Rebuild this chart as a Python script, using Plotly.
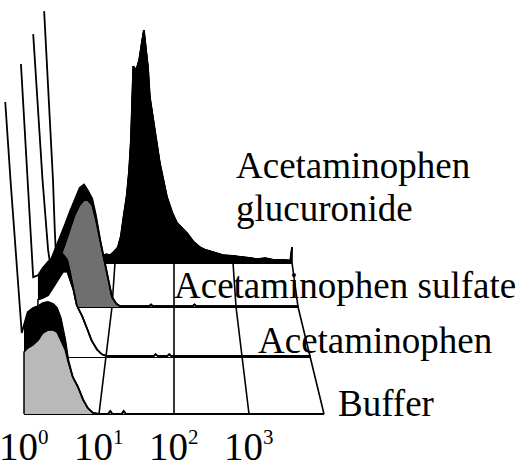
import plotly.graph_objects as go

# ---------------- data (log10 fluorescence, counts per channel) ----------------
layer_names = ["Buffer", "Acetaminophen", "Acetaminophen sulfate", "Acetaminophen glucuronide"]
decades = [0, 1, 2, 3, 4]
tick_exponents = [0, 1, 2, 3]
y_max_counts = 330

buffer_logf = [-0.25, -0.18, -0.03, 0.00, 0.05, 0.12, 0.19, 0.25, 0.32, 0.39, 0.44, 0.49, 0.55, 0.59,
               0.65, 0.72, 0.79, 0.85, 0.92, 1.00, 1.12, 1.15, 1.18, 1.30, 1.33, 1.36, 2.00, 4.00]
buffer_hi = [312, 234, 81, 89, 102, 106, 108, 111, 112, 110, 106, 96, 74, 54,
             37, 27, 14, 6, 1, 0, 0, 3, 0, 0, 3, 0, 0, 0]
buffer_lo = [312, 234, 81, 62, 66, 69, 74, 81, 84, 84, 82, 74, 64, 52,
             37, 27, 14, 6, 1, 0, 0, 3, 0, 0, 3, 0, 0, 0]

acet_logf = [-0.25, -0.15, -0.07, 0.00, 0.07, 0.15, 0.22, 0.29, 0.37, 0.43, 0.47, 0.52, 0.57, 0.65,
             0.72, 0.79, 0.87, 0.94, 1.01, 1.70, 1.73, 1.76, 1.90, 1.93, 1.96, 4.00]
acet_hi = [323, 195, 88, 90, 98, 105, 109, 113, 113, 107, 94, 74, 57, 45,
           32, 18, 8, 3, 1, 1, 3, 1, 1, 3, 1, 1]
acet_lo = [323, 195, 88, 63, 65, 68, 76, 85, 94, 94, 85, 74, 57, 45,
           32, 18, 8, 3, 1, 1, 3, 1, 1, 3, 1, 1]

sulf_logf = [-0.27, -0.12, -0.03, 0.00, 0.08, 0.16, 0.24, 0.32, 0.40, 0.48, 0.55, 0.61, 0.68, 0.74,
             0.81, 0.87, 0.94, 1.00, 1.07, 1.13, 1.60, 1.63, 1.66, 2.30, 2.33, 2.36, 4.00]
sulf_hi = [331, 154, 69, 54, 69, 83, 99, 115, 129, 144, 148, 141, 131, 111,
           81, 59, 33, 12, 4, 1, 1, 3, 1, 1, 3, 1, 1]
sulf_lo = [331, 154, 69, 39, 47, 59, 75, 93, 111, 123, 129, 129, 123, 105,
           81, 59, 33, 12, 4, 1, 1, 3, 1, 1, 3, 1, 1]

gluc_logf = [-0.20, -0.05, -0.02, 0.00, 0.24, 0.49, 0.78, 0.85, 0.92, 0.98, 1.05, 1.10, 1.15, 1.20,
             1.24, 1.27, 1.31, 1.36, 1.41, 1.46, 1.49, 1.53, 1.56, 1.59, 1.63, 1.68, 1.76, 1.88,
             1.97, 2.05, 2.14, 2.22, 2.33, 2.44, 2.52, 2.64, 2.75, 2.83, 3.00, 3.12, 3.27, 3.41,
             3.55, 3.68, 3.85, 3.97, 4.00]
gluc_hi = [320, 105, 42, 10, 9, 10, 9, 11, 10, 14, 20, 34, 61, 86,
           118, 156, 250, 245, 258, 285, 296, 268, 248, 211, 191, 169, 127, 84,
           64, 51, 44, 38, 27, 20, 17, 14, 12, 10, 9, 8, 7, 5,
           6, 4, 4, 3, 20]

# ---------------- drawing geometry (pixels) ----------------
W, H = 520, 462
BASE_Y = [414, 357, 307, 263]          # baseline of each staggered layer (front -> back)
SCALE = [1.0, 0.907, 0.827, 0.787]     # perspective scale of each layer
X_CENTER, D_CENTER, DECADE_PX = 174, 2.0, 75
PX_PER_COUNT = 1.0
FILLS = ["#b9b9b9", "#ffffff", "#6f6f6f", "#000000"]
SERIF = "Liberation Serif"


def to_screen(k, d, c):
    s = SCALE[k]
    return X_CENTER + (d - D_CENTER) * DECADE_PX * s, BASE_Y[k] - min(c, y_max_counts) * PX_PER_COUNT * s


fig = go.Figure()

# floor grid: baselines of the layers and slanted decade lines
for k in range(4):
    p0 = to_screen(k, decades[0], 0)
    p1 = to_screen(k, decades[-1], 0)
    fig.add_trace(go.Scatter(x=[p0[0], p1[0]], y=[p0[1], p1[1]], mode="lines",
                             line=dict(color="black", width=2), hoverinfo="skip"))
for d in decades[1:]:
    pts = [to_screen(k, d, 0) for k in range(4)]
    fig.add_trace(go.Scatter(x=[p[0] for p in pts], y=[p[1] for p in pts], mode="lines",
                             line=dict(color="black", width=1.6), hoverinfo="skip"))

layers = [
    (buffer_logf, buffer_hi, buffer_lo),
    (acet_logf, acet_hi, acet_lo),
    (sulf_logf, sulf_hi, sulf_lo),
    (gluc_logf, gluc_hi, gluc_hi),
]

# histograms, back to front
for k in [3, 2, 1, 0]:
    dd, hi, lo = layers[k]
    idx = [i for i in range(len(dd)) if dd[i] >= 0]
    body = [to_screen(k, dd[idx[0]], 0)] + [to_screen(k, dd[i], lo[i]) for i in idx] + \
           [to_screen(k, dd[idx[-1]], 0)]
    fig.add_trace(go.Scatter(x=[p[0] for p in body], y=[p[1] for p in body], mode="lines",
                             fill="toself", fillcolor=FILLS[k],
                             line=dict(color="black", width=1.5), hoverinfo="skip"))
    band = [to_screen(k, dd[i], hi[i]) for i in idx] + [to_screen(k, dd[i], lo[i]) for i in reversed(idx)]
    fig.add_trace(go.Scatter(x=[p[0] for p in band], y=[p[1] for p in band], mode="lines",
                             fill="toself", fillcolor="black",
                             line=dict(color="black", width=1), hoverinfo="skip"))
    outline = [to_screen(k, dd[i], hi[i]) for i in range(len(dd))]
    fig.add_trace(go.Scatter(x=[p[0] for p in outline], y=[p[1] for p in outline], mode="lines",
                             line=dict(color="black", width=1.8), hoverinfo="skip"))

annotations = []
for e in tick_exponents:
    x = to_screen(0, e, 0)[0]
    annotations.append(dict(x=x, y=423, xref="x", yref="y", xanchor="center", yanchor="top",
                            text=f"10<sup><span style='font-size:21px'>{e}</span></sup>",
                            showarrow=False, font=dict(family=SERIF, size=39, color="black")))

label_specs = [
    ("Buffer", 336, 381),
    ("Acetaminophen", 256, 318),
    ("Acetaminophen sulfate", 172, 263),
    ("Acetaminophen", 234, 143),
    ("glucuronide", 234, 186),
]
for txt, x, y in label_specs:
    annotations.append(dict(x=x, y=y, xref="x", yref="y", xanchor="left", yanchor="top", text=txt,
                            showarrow=False, font=dict(family=SERIF, size=37, color="black")))

fig.update_layout(
    width=W, height=H, autosize=False,
    margin=dict(l=0, r=0, t=0, b=0, pad=0),
    paper_bgcolor="white", plot_bgcolor="white",
    showlegend=False,
    font=dict(family=SERIF),
    xaxis=dict(range=[0, W], visible=False, fixedrange=True),
    yaxis=dict(range=[H, 0], visible=False, fixedrange=True),
    annotations=annotations,
)

# remove the browser's default page margin so the figure fills the window exactly
fig.write_html("out.html", config={"displayModeBar": False},
               post_script="document.body.style.margin='0px';")
